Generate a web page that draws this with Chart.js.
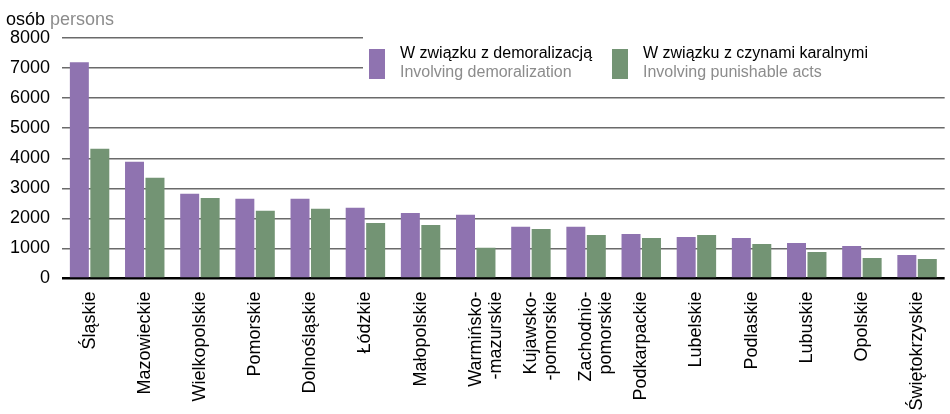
<!DOCTYPE html>
<html><head><meta charset="utf-8">
<script src="https://cdn.jsdelivr.net/npm/chart.js@4/dist/chart.umd.min.js"></script>
<style>html,body{margin:0;padding:0;background:#fff}#wrap{width:950px;height:414px;position:relative}</style>
</head><body><div id="wrap"><canvas id="c" width="950" height="414"></canvas></div>
<script>
const categories = ["Śląskie","Mazowieckie","Wielkopolskie","Pomorskie","Dolnośląskie","Łódzkie","Małopolskie",["Warmińsko-","-mazurskie"],["Kujawsko-","-pomorskie"],["Zachodnio-","pomorskie"],"Podkarpackie","Lubelskie","Podlaskie","Lubuskie","Opolskie","Świętokrzyskie"];
const demoralization = [7190,3880,2820,2650,2650,2350,2180,2120,1720,1720,1480,1380,1350,1180,1080,780];
const punishable = [4320,3350,2680,2250,2320,1850,1780,1020,1650,1450,1350,1450,1150,880,680,650];
const yTicks = [0,1000,2000,3000,4000,5000,6000,7000,8000];
const seriesPL = ["W związku z demoralizacją","W związku z czynami karalnymi"];
const seriesEN = ["Involving demoralization","Involving punishable acts"];
const colors = ["#8f73b0","#739474"];
const FONT = "'Liberation Sans', Arial, sans-serif";

const overlay = {
  id:'overlay',
  afterDraw(chart){
    const ctx = chart.ctx, ca = chart.chartArea;
    ctx.save();
    ctx.font = "18px " + FONT;
    ctx.textBaseline = 'alphabetic';
    ctx.textAlign = 'left';
    ctx.fillStyle = '#000';
    const ty = ca.top - 13;
    ctx.fillText('osób', 6, ty);
    const w = ctx.measureText('osób ').width;
    ctx.fillStyle = '#8c8c8c';
    ctx.fillText('persons', 6 + w, ty);
    ctx.fillStyle = '#fff';
    ctx.fillRect(363, 30, 950-363, 55);
    const items = [{sx:369, tx:400},{sx:612, tx:643}];
    items.forEach((it,i)=>{
      ctx.fillStyle = colors[i];
      ctx.fillRect(it.sx, 49, 16, 30);
      ctx.font = "16px " + FONT;
      ctx.textBaseline = 'middle';
      ctx.fillStyle = '#000';
      ctx.fillText(seriesPL[i], it.tx, 54);
      ctx.fillStyle = '#8c8c8c';
      ctx.fillText(seriesEN[i], it.tx, 73);
    });
    ctx.restore();
  }
};

new Chart(document.getElementById('c'), {
  type:'bar',
  data:{
    labels: categories,
    datasets:[
      {label: seriesPL[0], data: demoralization, backgroundColor: colors[0], categoryPercentage:0.742, barPercentage:0.927},
      {label: seriesPL[1], data: punishable, backgroundColor: colors[1], categoryPercentage:0.742, barPercentage:0.927}
    ]
  },
  options:{
    responsive:false, animation:false,
    layout:{padding:{top:38, right:4, left:0, bottom:0}},
    plugins:{legend:{display:false}, tooltip:{enabled:false}, title:{display:false}},
    scales:{
      x:{
        grid:{display:false, drawTicks:false},
        border:{display:false},
        ticks:{color:'#000', font:{family:FONT, size:18, lineHeight:1.1}, minRotation:90, maxRotation:90, padding:13, autoSkip:false},
        afterFit(s){ s.height = 135.5; }
      },
      y:{
        min:0, max:8000,
        afterBuildTicks(s){ s.ticks = yTicks.map(v=>({value:v})); },
        grid:{drawTicks:false, color:c=> c.tick && c.tick.value===0 ? '#000' : '#6a6a6a', lineWidth:c=> c.tick && c.tick.value===0 ? 2.5 : 1.5},
        border:{display:false},
        ticks:{color:'#000', font:{family:FONT, size:18}, padding:12, callback:v=>String(v)},
        afterFit(s){ s.width = 62; }
      }
    }
  },
  plugins:[overlay]
});
</script></body></html>
